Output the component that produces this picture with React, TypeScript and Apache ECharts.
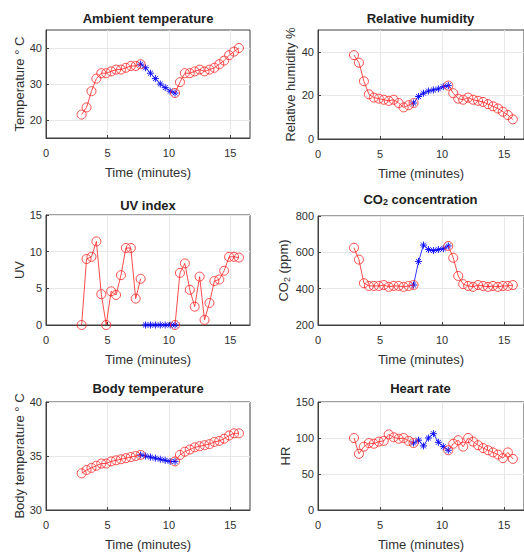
import React, { useEffect, useRef } from "react";
import * as echarts from "echarts";

// Shared time axis (minutes)
const time = [2.9, 3.3, 3.7, 4.1, 4.5, 4.9, 5.3, 5.7, 6.1, 6.5, 6.9, 7.3, 7.7, 8.1, 8.5, 8.9, 9.3, 9.7, 10.1, 10.5, 10.9, 11.3, 11.7, 12.1, 12.5, 12.9, 13.3, 13.7, 14.1, 14.5, 14.9, 15.3, 15.7];

const ambientTemp = [21.5, 23.5, 28.0, 31.5, 33.0, 33.0, 33.5, 34.0, 34.0, 34.5, 35.0, 35.0, 35.5, 34.5, 33.0, 31.5, 30.0, 29.0, 28.0, 27.5, 30.5, 33.0, 33.0, 33.5, 34.0, 33.5, 34.0, 34.5, 35.5, 36.5, 38.0, 39.0, 40.0];
const relHumidity = [38.5, 35, 26.5, 20.5, 19, 18.5, 18, 17.5, 18, 16.5, 14.5, 15.5, 16.5, 19.5, 21, 22, 22.5, 23, 24, 24.5, 21, 18.5, 18, 19, 18, 17.5, 17, 16, 15, 14, 12.5, 11, 9];
const uvIndex = [0, 9, 9.3, 11.4, 4.2, 0, 4.6, 4.1, 6.8, 10.5, 10.5, 3.6, 6.3, 0, 0, 0, 0, 0, 0, 0, 7.1, 8.4, 4.8, 2.5, 6.6, 0.7, 3, 6, 6.2, 7.4, 9.3, 9.3, 9.2];
const co2 = [625, 560, 430, 415, 415, 415, 420, 410, 415, 415, 410, 415, 420, 550, 640, 615, 610, 615, 620, 635, 570, 470, 425, 415, 410, 420, 415, 410, 415, 410, 415, 415, 420];
const bodyTemp = [33.4, 33.7, 33.9, 34.1, 34.3, 34.3, 34.5, 34.6, 34.7, 34.8, 34.9, 35.0, 35.1, 35.0, 34.9, 34.8, 34.7, 34.6, 34.5, 34.5, 35.1, 35.4, 35.6, 35.8, 35.9, 36.0, 36.1, 36.3, 36.4, 36.6, 36.9, 37.1, 37.1];
const heartRate = [100, 78, 88, 93, 92, 95, 96, 105, 101, 99, 100, 96, 93, 97, 89, 100, 106, 94, 88, 83, 92, 97, 88, 100, 95, 90, 86, 83, 80, 77, 72, 80, 71];

// Segment boundaries (indices into time)
const RED1_END = 12;
const BLUE_END = 19;
const LAST = 32;

// Tick labels
const xTicks = [0, 5, 10, 15];
const ambientTicks = [20, 30, 40];
const humidityTicks = [0, 20, 40];
const uvTicks = [0, 5, 10, 15];
const co2Ticks = [200, 400, 600, 800];
const bodyTicks = [30, 35, 40];
const hrTicks = [0, 50, 100, 150];

const FONT = "'Liberation Sans', Arial, Helvetica, sans-serif";
const STAR = "path://M5,0L5,10M0,5L10,5M1.5,1.5L8.5,8.5M1.5,8.5L8.5,1.5";

const panels = [
  { values: ambientTemp, yMin: 15, yMax: 45, yTicks: ambientTicks, yName: "Temperature ° C", nameGap: 20, grid: { left: 46, top: 30, width: 204, height: 108 }, title: "Ambient temperature", titleY: 18, blueStart: 12 },
  { values: relHumidity, yMin: 0, yMax: 50, yTicks: humidityTicks, yName: "Relative humidity %", nameGap: 21, grid: { left: 318, top: 30, width: 207, height: 109 }, title: "Relative humidity", titleY: 18, blueStart: 12 },
  { values: uvIndex, yMin: 0, yMax: 15, yTicks: uvTicks, yName: "UV", nameGap: 20, grid: { left: 46, top: 215, width: 204, height: 110 }, title: "UV index", titleY: 205, blueStart: 13 },
  { values: co2, yMin: 200, yMax: 800, yTicks: co2Ticks, yName: "{a|CO}{s|2}{a| (ppm)}", nameGap: 26, grid: { left: 318, top: 216, width: 207, height: 109 }, title: "{t|CO}{ts|2}{t| concentration}", titleY: 200, blueStart: 12 },
  { values: bodyTemp, yMin: 30, yMax: 40, yTicks: bodyTicks, yName: "Body temperature ° C", nameGap: 20, grid: { left: 46, top: 402, width: 204, height: 108 }, title: "Body temperature", titleY: 388, blueStart: 12 },
  { values: heartRate, yMin: 0, yMax: 150, yTicks: hrTicks, yName: "HR", nameGap: 26, grid: { left: 318, top: 402, width: 207, height: 108 }, title: "Heart rate", titleY: 388, blueStart: 12 },
];

function seg(values: number[], from: number, to: number) {
  const out: number[][] = [];
  for (let i = from; i <= to; i++) out.push([time[i], values[i]]);
  return out;
}

function buildOption() {
  const grids: any[] = [];
  const xAxes: any[] = [];
  const yAxes: any[] = [];
  const series: any[] = [];
  const graphics: any[] = [];
  const axisColor = "#404040";
  const labelColor = "#303030";

  panels.forEach((p, i) => {
    grids.push({ ...p.grid, show: true, borderColor: axisColor, borderWidth: 1, backgroundColor: "#fff", containLabel: false });
    xAxes.push({
      gridIndex: i, type: "value", min: 0, max: 16.6,
      name: "Time (minutes)", nameLocation: "middle", nameGap: 28,
      nameTextStyle: { fontSize: 13, color: labelColor, fontFamily: FONT },
      axisLine: { show: true, onZero: false, lineStyle: { color: axisColor, width: 1 } },
      axisTick: { show: true, inside: true, length: 3, customValues: xTicks, lineStyle: { color: axisColor } },
      axisLabel: { customValues: xTicks, fontSize: 11, color: labelColor, margin: 9, fontFamily: FONT },
      splitLine: { show: true, lineStyle: { color: "#e8e8e8", width: 1 } },
    });
    yAxes.push({
      gridIndex: i, type: "value", min: p.yMin, max: p.yMax,
      name: p.yName, nameLocation: "middle", nameGap: p.nameGap,
      nameTextStyle: {
        fontSize: 13, color: labelColor, fontFamily: FONT,
        rich: {
          a: { fontSize: 13, color: labelColor, fontFamily: FONT, verticalAlign: "top", lineHeight: 15 },
          s: { fontSize: 9, color: labelColor, fontFamily: FONT, verticalAlign: "top", lineHeight: 15, padding: [5, 0, 0, 0] },
        },
      },
      axisLine: { show: true, onZero: false, lineStyle: { color: axisColor, width: 1 } },
      axisTick: { show: true, inside: true, length: 3, customValues: p.yTicks, lineStyle: { color: axisColor } },
      axisLabel: { customValues: p.yTicks, fontSize: 11, color: labelColor, margin: 4, fontFamily: FONT },
      splitLine: { show: true, lineStyle: { color: "#e8e8e8", width: 1 } },
    });
    const redStyle = {
      type: "line", xAxisIndex: i, yAxisIndex: i, symbol: "circle", symbolSize: 9,
      itemStyle: { color: "rgba(255,0,0,0)", borderColor: "#ff2020", borderWidth: 0.8 },
      lineStyle: { color: "#ff2020", width: 0.8 }, z: 3,
    };
    series.push({ ...redStyle, name: p.title + " red 1", data: seg(p.values, 0, RED1_END) });
    series.push({
      type: "line", xAxisIndex: i, yAxisIndex: i, symbol: STAR, symbolSize: 7,
      name: p.title + " blue",
      itemStyle: { color: "rgba(0,0,255,0)", borderColor: "#0000ff", borderWidth: 0.9 },
      lineStyle: { color: "#0000ff", width: 0.8 }, z: 2,
      data: seg(p.values, p.blueStart, BLUE_END),
    });
    series.push({ ...redStyle, name: p.title + " red 2", data: seg(p.values, BLUE_END, LAST) });

    graphics.push({
      type: "text",
      x: p.grid.left + p.grid.width / 2 - (i % 2 === 1 ? 1 : 0),
      y: p.titleY,
      style: {
        text: p.title,
        align: "center", verticalAlign: "middle",
        fontSize: 13, fontWeight: "bold", fill: "#202020", fontFamily: FONT,
        rich: {
          t: { fontSize: 13, fontWeight: "bold", fill: "#202020", fontFamily: FONT, verticalAlign: "top", lineHeight: 15 },
          ts: { fontSize: 9, fontWeight: "bold", fill: "#202020", fontFamily: FONT, verticalAlign: "top", lineHeight: 15, padding: [5, 0, 0, 0] },
        },
      },
    });
  });

  return {
    animation: false,
    backgroundColor: "#fff",
    grid: grids,
    xAxis: xAxes,
    yAxis: yAxes,
    series,
    graphic: graphics,
  };
}

export default function App() {
  const ref = useRef<HTMLDivElement>(null);
  useEffect(() => {
    if (!ref.current) return;
    const chart = echarts.init(ref.current, null, { renderer: "svg" });
    chart.setOption(buildOption() as any);
    return () => chart.dispose();
  }, []);
  return (
    <div
      ref={ref}
      style={{ position: "fixed", left: 0, top: 0, width: 524, height: 557, background: "#fff" }}
    />
  );
}
